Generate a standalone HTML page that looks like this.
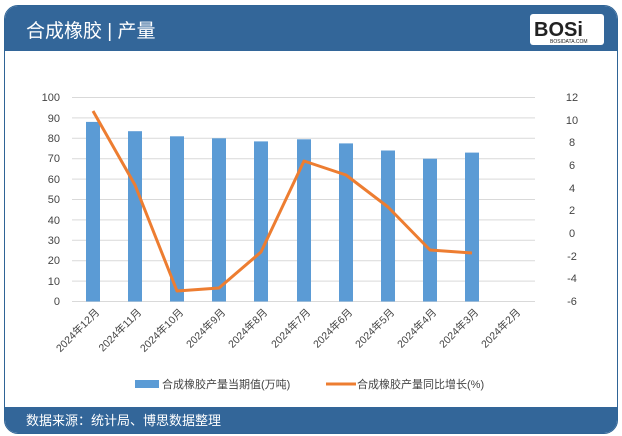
<!DOCTYPE html>
<html><head><meta charset="utf-8"><style>
body{margin:0;width:622px;height:436px;background:#fff;font-family:"Liberation Sans","Noto Sans CJK SC",sans-serif;overflow:hidden}
.card{position:absolute;left:4px;top:5px;width:612px;height:427px;border:1px solid #2f6496;border-radius:14px;overflow:hidden;background:#fff}
.hd{position:absolute;left:0;top:0;width:100%;height:45px;background:#336699;}
.ft{position:absolute;left:0;bottom:0;width:100%;height:26px;background:#336699;}
</style></head><body>
<div class="card"><div class="hd"></div><div class="ft"></div></div>
<svg width="622" height="436" style="position:absolute;left:0;top:0" font-family="Liberation Sans, Noto Sans CJK SC, sans-serif">
<text x="26" y="37" fill="#fff" font-size="19">合成橡胶 | 产量</text>
<rect x="530" y="14" width="74" height="31" rx="3" fill="#fff"/>
<text x="534" y="36" font-size="20" font-weight="bold" fill="#222">BOSi</text>
<text x="550" y="43" font-size="5" fill="#222">BOSIDATA.COM</text>
<text x="26" y="425" fill="#fff" font-size="13">数据来源：统计局、博思数据整理</text>
<g stroke="#d9d9d9" stroke-width="1">
<line x1="72" x2="535" y1="97.5" y2="97.5"/><line x1="72" x2="535" y1="117.9" y2="117.9"/><line x1="72" x2="535" y1="138.3" y2="138.3"/><line x1="72" x2="535" y1="158.7" y2="158.7"/><line x1="72" x2="535" y1="179.1" y2="179.1"/><line x1="72" x2="535" y1="199.5" y2="199.5"/><line x1="72" x2="535" y1="219.9" y2="219.9"/><line x1="72" x2="535" y1="240.3" y2="240.3"/><line x1="72" x2="535" y1="260.7" y2="260.7"/><line x1="72" x2="535" y1="281.1" y2="281.1"/><line x1="72" x2="535" y1="301.5" y2="301.5"/>
</g>
<g font-size="11" fill="#444" text-anchor="end">
<text x="60" y="101">100</text><text x="60" y="122">90</text><text x="60" y="142">80</text><text x="60" y="162">70</text><text x="60" y="183">60</text><text x="60" y="203">50</text><text x="60" y="224">40</text><text x="60" y="244">30</text><text x="60" y="264">20</text><text x="60" y="285">10</text><text x="60" y="305">0</text>
</g>
<g font-size="11" fill="#444" text-anchor="middle">
<text x="572" y="101">12</text><text x="572" y="124">10</text><text x="572" y="146">8</text><text x="572" y="169">6</text><text x="572" y="192">4</text><text x="572" y="214">2</text><text x="572" y="237">0</text><text x="572" y="260">-2</text><text x="572" y="282">-4</text><text x="572" y="305">-6</text>
</g>
<g fill="#5b9bd5">
<rect x="86" y="121.9" width="14" height="179.6"/>
<rect x="128" y="131.2" width="14" height="170.3"/>
<rect x="170" y="136.3" width="14" height="165.2"/>
<rect x="212" y="138.3" width="14" height="163.2"/>
<rect x="254" y="141.4" width="14" height="160.1"/>
<rect x="297" y="139.3" width="14" height="162.2"/>
<rect x="339" y="143.4" width="14" height="158.1"/>
<rect x="381" y="150.5" width="14" height="151"/>
<rect x="423" y="158.7" width="14" height="142.8"/>
<rect x="465" y="152.6" width="14" height="148.9"/>
</g>
<polyline fill="none" stroke="#ed7d31" stroke-width="3" stroke-linejoin="round" points="93,111 135,185 177,291 219,288 261,252 304,161 346,175 388,207 430,250 472,253"/>
<g font-size="10.5" fill="#444" text-anchor="end">
<text transform="translate(100,313) rotate(-45)">2024年12月</text>
<text transform="translate(142,313) rotate(-45)">2024年11月</text>
<text transform="translate(184,313) rotate(-45)">2024年10月</text>
<text transform="translate(226,313) rotate(-45)">2024年9月</text>
<text transform="translate(268,313) rotate(-45)">2024年8月</text>
<text transform="translate(311,313) rotate(-45)">2024年7月</text>
<text transform="translate(353,313) rotate(-45)">2024年6月</text>
<text transform="translate(395,313) rotate(-45)">2024年5月</text>
<text transform="translate(437,313) rotate(-45)">2024年4月</text>
<text transform="translate(479,313) rotate(-45)">2024年3月</text>
<text transform="translate(521,313) rotate(-45)">2024年2月</text>
</g>
<rect x="135" y="380" width="24" height="8" fill="#5b9bd5"/>
<text x="162" y="388" font-size="11" fill="#444">合成橡胶产量当期值(万吨)</text>
<line x1="326" x2="356" y1="384" y2="384" stroke="#ed7d31" stroke-width="3"/>
<text x="357" y="388" font-size="11" fill="#444">合成橡胶产量同比增长(%)</text>
</svg>
</body></html>
